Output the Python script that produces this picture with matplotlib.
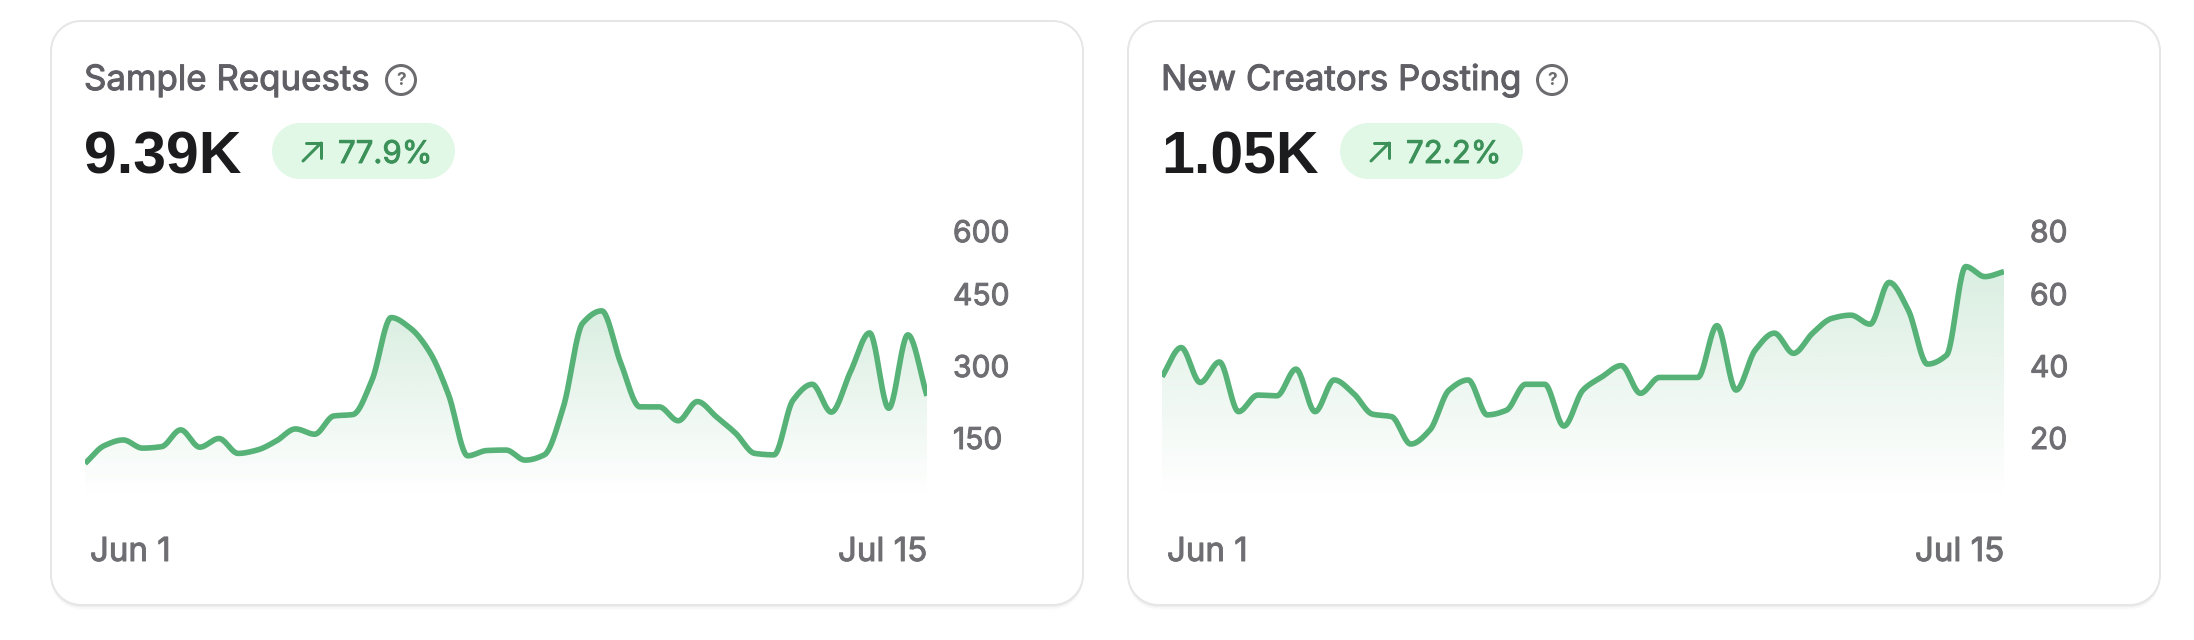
import matplotlib
matplotlib.use('Agg')
import matplotlib.pyplot as plt
import matplotlib.patheffects as pe
import numpy as np
from matplotlib.patches import Circle, PathPatch, Polygon
from matplotlib.path import Path
from matplotlib.transforms import ScaledTranslation
from matplotlib.colors import to_rgb

W, H = 2194, 640
plt.rcParams['font.family'] = ['Inter', 'DejaVu Sans']

x_labels = ['Jun 1', 'Jul 15']

requests_title = 'Sample Requests'
requests_total = '9.39K'
requests_change = '77.9%'
requests_ticks = [150, 300, 450, 581]
requests_tick_labels = ['150', '300', '450', '600']
requests = [99, 136, 148, 131, 134, 169, 133, 151, 120, 127, 146, 171, 160, 198, 201,
            273, 403, 381, 332, 242, 115, 126, 127, 106, 117, 217, 391, 417, 308, 217,
            217, 188, 228, 196, 162, 120, 117, 231, 264, 206, 290, 371, 214, 367, 240]

creators_title = 'New Creators Posting'
creators_total = '1.05K'
creators_change = '72.2%'
creators_ticks = [20, 40, 60, 77.5]
creators_tick_labels = ['20', '40', '60', '80']
creators = [37.3, 45.4, 35.7, 41.4, 27.6, 32.2, 32, 39.4, 27.6, 36.4, 32.7, 26.9, 26.2, 18.6, 22.5,
            33.6, 36.4, 26.7, 28, 35.2, 35.2, 23.6, 33.6, 37.3, 40.4, 32.7, 37.1, 37.1, 37.1, 51.5,
            33.6, 44.7, 49.4, 43.8, 49.4, 53.5, 54.4, 51.9, 63.5, 55.8, 40.8, 43.3, 67.9, 65.1, 66.5]

GREEN = '#56b277'
GREY = '#6e6e73'


def px(v):
    return v * 72 / 100


def heavier(color, w=1.0):
    # Inter only comes in one weight here, a thin stroke gives the medium look
    return [pe.withStroke(linewidth=px(w), foreground=color)]


def rrect(x, y, w, h, r):
    k = 0.5523 * r
    v = [(x + r, y), (x + w - r, y), (x + w - r + k, y), (x + w, y + r - k), (x + w, y + r),
         (x + w, y + h - r), (x + w, y + h - r + k), (x + w - r + k, y + h), (x + w - r, y + h),
         (x + r, y + h), (x + r - k, y + h), (x, y + h - r + k), (x, y + h - r),
         (x, y + r), (x, y + r - k), (x + r - k, y), (x + r, y), (x + r, y)]
    c = [Path.MOVETO, Path.LINETO, Path.CURVE4, Path.CURVE4, Path.CURVE4,
         Path.LINETO, Path.CURVE4, Path.CURVE4, Path.CURVE4,
         Path.LINETO, Path.CURVE4, Path.CURVE4, Path.CURVE4,
         Path.LINETO, Path.CURVE4, Path.CURVE4, Path.CURVE4, Path.CLOSEPOLY]
    return Path(v, c)


def monotone(y, n=24):
    # monotone cubic, same look as the chart library's smooth line
    y = np.asarray(y, float)
    d = np.diff(y)
    m = np.zeros(len(y))
    for i in range(1, len(y) - 1):
        if d[i - 1] * d[i] > 0:
            m[i] = 2 * d[i - 1] * d[i] / (d[i - 1] + d[i])
    m[0] = d[0]
    m[-1] = d[-1]
    xs, ys = [], []
    for i in range(len(d)):
        t = np.linspace(0, 1, n, endpoint=False)
        ys.append((2*t**3 - 3*t**2 + 1)*y[i] + (t**3 - 2*t**2 + t)*m[i]
                  + (-2*t**3 + 3*t**2)*y[i+1] + (t**3 - t**2)*m[i+1])
        xs.append(i + t)
    return np.append(np.concatenate(xs), len(y) - 1), np.append(np.concatenate(ys), y[-1])


fig = plt.figure(figsize=(W / 100, H / 100), dpi=100)
bg = fig.add_axes([0, 0, 1, 1])
bg.set_xlim(0, W)
bg.set_ylim(H, 0)
bg.axis('off')


def card(left, title, total, change, values, ticks, tick_labels, ymax, icon_x, badge_x, fade_val):
    right = left + 1032
    for off, a in [(5, 0.012), (3.5, 0.02), (2, 0.03)]:
        bg.add_patch(PathPatch(rrect(left, 21 + off, right - left, 584, 30), fc=(0, 0, 0, a), ec='none'))
    bg.add_patch(PathPatch(rrect(left, 21, right - left, 584, 30), fc='white', ec='#e6e6e8', lw=px(2)))
    tx = left + 33
    bg.text(tx, 90, title, fontsize=25.1, color='#5f5f65', va='baseline', ha='left',
            path_effects=heavier('#5f5f65'))
    bg.add_patch(Circle((icon_x, 80), 14.5, fc='none', ec='#6c6c70', lw=px(3)))
    bg.text(icon_x, 80.5, '?', fontsize=12.5, color='#6c6c70', fontweight='bold', ha='center', va='center')
    bg.text(tx, 173, total, fontsize=42.5, color='#1c1c1e', fontweight='bold', va='baseline', ha='left',
            family=['Liberation Sans', 'DejaVu Sans'])
    bg.add_patch(PathPatch(rrect(badge_x, 123, 183, 56, 28), fc='#e1f8e7', ec='none'))
    ax0 = badge_x + 31
    bg.plot([ax0, ax0 + 18], [161, 143], color='#3c9159', lw=px(3), solid_capstyle='round')
    bg.plot([ax0 + 3, ax0 + 18, ax0 + 18], [143, 143, 158], color='#3c9159', lw=px(3),
            solid_capstyle='round', solid_joinstyle='miter')
    bg.text(badge_x + 66, 163, change, fontsize=22.5, color='#3c9159', va='baseline', ha='left',
            path_effects=heavier('#3c9159', 0.9))

    # plot area runs from value 0 at y=511 to ymax at y=223
    x0 = left + 34
    ax = fig.add_axes([x0 / W, 1 - 511 / H, 842 / W, 288 / H])
    ax.patch.set_alpha(0)
    xs, ys = monotone(values)
    ax.plot(xs, ys, color=GREEN, lw=px(5.6), solid_capstyle='butt', solid_joinstyle='round', zorder=3)
    top = ys.max()
    grad = np.zeros((256, 2, 4))
    grad[..., :3] = to_rgb(GREEN)
    grad[..., 3] = np.linspace(0.22, 0, 256)[:, None]
    im = ax.imshow(grad, extent=[0, len(values) - 1, fade_val, top], aspect='auto', origin='upper', zorder=1)
    poly = Polygon(np.column_stack([np.r_[xs, xs[-1], xs[0]], np.r_[ys, fade_val, fade_val]]),
                   transform=ax.transData, fc='none', ec='none')
    ax.add_patch(poly)
    im.set_clip_path(poly)
    ax.set_xlim(0, len(values) - 1)
    ax.set_ylim(0, ymax)
    for s in ax.spines.values():
        s.set_visible(False)
    ax.yaxis.tick_right()
    ax.set_yticks(ticks, tick_labels)
    ax.set_xticks([0, len(values) - 1], x_labels)
    ax.tick_params(axis='y', length=0, pad=px(26), labelsize=21.6, labelcolor=GREY)
    ax.tick_params(axis='x', length=0, pad=px(26), labelsize=23.8, labelcolor=GREY)
    up = ScaledTranslation(0, 1 / 100, fig.dpi_scale_trans)
    for lab in ax.get_yticklabels():
        lab.set_path_effects(heavier(GREY))
        lab.set_transform(lab.get_transform() + up)
    labs = ax.get_xticklabels()
    labs[0].set_ha('left')
    labs[1].set_ha('right')
    for lab in labs:
        lab.set_path_effects(heavier(GREY))
    labs[0].set_transform(labs[0].get_transform() + ScaledTranslation(5 / 100, 0, fig.dpi_scale_trans))
    return ax


card(51, requests_title, requests_total, requests_change, requests, requests_ticks, requests_tick_labels,
     600, 401, 272, 28)
card(1128, creators_title, creators_total, creators_change, creators, creators_ticks, creators_tick_labels,
     80, 1552, 1340, 4)

fig.savefig('out.png', dpi=100)
